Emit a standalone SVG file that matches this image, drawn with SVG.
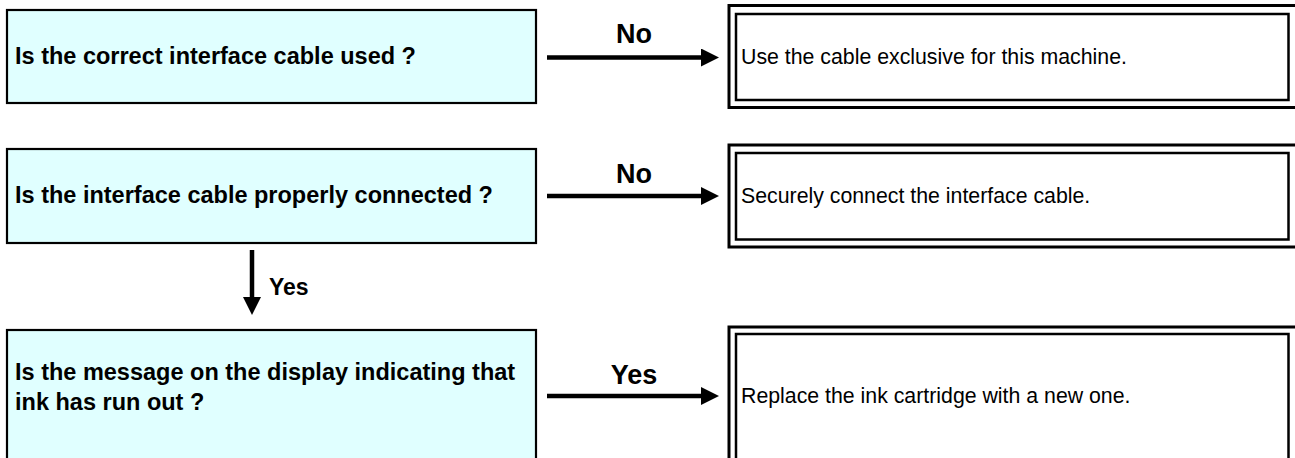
<svg xmlns="http://www.w3.org/2000/svg" width="1295" height="458" viewBox="0 0 1295 458">
  <style>
    .q { fill: #e0ffff; stroke: #000; stroke-width: 2.2; }
    .outer { fill: #fff; stroke: #000; stroke-width: 3; }
    .inner { fill: none; stroke: #000; stroke-width: 2.5; }
    .qt { font-family: "Liberation Sans", Arial, sans-serif; font-weight: bold; font-size: 23.5px; fill: #000; }
    .at { font-family: "Liberation Sans", Arial, sans-serif; font-size: 21.3px; fill: #000; }
    .lbl { font-family: "Liberation Sans", Arial, sans-serif; font-weight: bold; font-size: 27px; fill: #000; text-anchor: middle; }
    .lbl2 { font-family: "Liberation Sans", Arial, sans-serif; font-weight: bold; font-size: 23px; fill: #000; }
    .conn { stroke: #000; stroke-width: 4.5; fill: none; }
  </style>
  <defs>
    <marker id="ah" viewBox="0 0 18 18" refX="0" refY="9" markerWidth="18" markerHeight="18" markerUnits="userSpaceOnUse" orient="auto">
      <path d="M0,0 L18,9 L0,18 Z" fill="#000"/>
    </marker>
  </defs>

  <g id="q1">
    <rect class="q" x="7" y="10" width="529" height="93"/>
    <text class="qt" x="15" y="64">Is the correct interface cable used ?</text>
  </g>
  <g id="a1">
    <rect class="outer" x="729" y="5.5" width="568" height="102"/>
    <rect class="inner" x="736" y="14" width="552.5" height="86"/>
    <text class="at" x="741" y="64">Use the cable exclusive for this machine.</text>
  </g>

  <g id="q2">
    <rect class="q" x="7" y="149" width="529" height="94"/>
    <text class="qt" x="15" y="203">Is the interface cable properly connected ?</text>
  </g>
  <g id="a2">
    <rect class="outer" x="729" y="145" width="568" height="102"/>
    <rect class="inner" x="736" y="153" width="552.5" height="86.5"/>
    <text class="at" x="741" y="203">Securely connect the interface cable.</text>
  </g>

  <g id="q3">
    <rect class="q" x="7" y="330" width="529" height="140"/>
    <text class="qt" x="15" y="380">Is the message on the display indicating that</text>
    <text class="qt" x="15" y="410">ink has run out ?</text>
  </g>
  <g id="a3">
    <rect class="outer" x="729" y="327" width="568" height="140"/>
    <rect class="inner" x="736" y="334" width="552.5" height="140"/>
    <text class="at" x="741" y="403">Replace the ink cartridge with a new one.</text>
  </g>

  <g id="connectors">
    <line class="conn" x1="547" y1="57.5" x2="701" y2="57.5" marker-end="url(#ah)"/>
    <text class="lbl" x="634" y="43">No</text>
    <line class="conn" x1="547" y1="196" x2="701" y2="196" marker-end="url(#ah)"/>
    <text class="lbl" x="634" y="183">No</text>
    <line class="conn" x1="252" y1="250" x2="252" y2="297" marker-end="url(#ah)"/>
    <text class="lbl2" x="269" y="295">Yes</text>
    <line class="conn" x1="547" y1="396" x2="701" y2="396" marker-end="url(#ah)"/>
    <text class="lbl" x="634" y="384">Yes</text>
  </g>
</svg>
